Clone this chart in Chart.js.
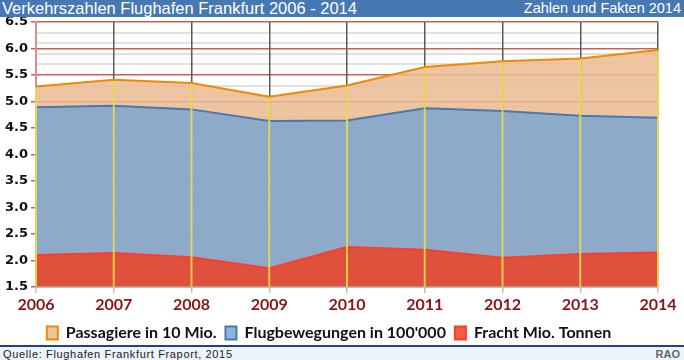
<!DOCTYPE html>
<html>
<head>
<meta charset="utf-8">
<script src="https://cdn.jsdelivr.net/npm/chart.js@4/dist/chart.umd.min.js"></script>
<style>
  body { margin: 0; background: #fff; }
  #wrap { position: relative; width: 684px; height: 360px; overflow: hidden; }
  #graph { position: absolute; left: 0; top: 0; }
  #titre { position: absolute; left: 0; top: 0; width: 684px; height: 17px; background: #4878b2;
           color: #fff; font-family: "Liberation Sans", Arial, sans-serif; }
  #titre .g { position: absolute; left: 2px; top: -1px; font-size: 16.5px; line-height: 18px; }
  #titre .d { position: absolute; right: 3px; top: -1px; font-size: 14.5px; line-height: 18px; }
  #pied { position: absolute; left: 0; top: 345px; width: 684px; height: 15px; background: #edf3fa;
          border-top: 2px solid #24407e; font-family: "Liberation Sans", Arial, sans-serif; }
  #pied .g { position: absolute; left: 3px; top: 1px; font-size: 11px; color: #222; letter-spacing: 0.65px; }
  #pied .d { position: absolute; right: 4px; top: 1px; font-size: 11px; color: #666; font-weight: bold; }
</style>
</head>
<body>
<div id="wrap">
  <canvas id="graph" width="684" height="360"></canvas>
  <div id="titre"><span class="g">Verkehrszahlen Flughafen Frankfurt 2006 - 2014</span><span class="d">Zahlen und Fakten 2014</span></div>
  <div id="pied"><span class="g">Quelle: Flughafen Frankfurt Fraport, 2015</span><span class="d">RAO</span></div>
</div>
<script>
var annees = ['2006', '2007', '2008', '2009', '2010', '2011', '2012', '2013', '2014'];
// passagiere en 10 Mio, flugbewegungen en 100'000, fracht en Mio. Tonnen
var passagiere = [5.28, 5.41, 5.35, 5.09, 5.30, 5.65, 5.76, 5.81, 5.97];
var flugbewegungen = [4.89, 4.92, 4.85, 4.63, 4.64, 4.87, 4.82, 4.73, 4.69];
var fracht = [2.10, 2.14, 2.06, 1.85, 2.25, 2.20, 2.05, 2.12, 2.15];
var libelles = ['Passagiere in 10 Mio.', "Flugbewegungen in 100'000", 'Fracht Mio. Tonnen'];

// lignes jaunes verticales par dessus les surfaces
var lignesJaunes = {
    id: 'lignesJaunes',
    afterDatasetsDraw: function (chart) {
        var ctx = chart.ctx;
        var meta = chart.getDatasetMeta(0);
        var bas = chart.chartArea.bottom;
        ctx.save();
        ctx.lineWidth = 2;
        ctx.strokeStyle = 'rgba(236,222,70,0.85)';
        for (var i = 0; i < meta.data.length; i++) {
            var pt = meta.data[i];
            ctx.beginPath();
            ctx.moveTo(pt.x, bas);
            ctx.lineTo(pt.x, pt.y + 1);
            ctx.stroke();
        }
        ctx.restore();
    }
};

function dixieme(v) {
    return Math.round(v * 10);
}

var ctx = document.getElementById('graph').getContext('2d');
var chart = new Chart(ctx, {
    type: 'line',
    data: {
        labels: annees,
        datasets: [
            {
                label: libelles[0],
                data: passagiere,
                fill: 'start',
                backgroundColor: 'rgba(234,187,146,0.85)',
                borderColor: '#f08800',
                borderWidth: 2,
                pointRadius: 0,
                order: 3
            },
            {
                label: libelles[1],
                data: flugbewegungen,
                fill: 'start',
                backgroundColor: 'rgba(125,166,209,0.85)',
                borderColor: '#4a78ad',
                borderWidth: 2,
                pointRadius: 0,
                order: 2
            },
            {
                label: libelles[2],
                data: fracht,
                fill: 'start',
                backgroundColor: 'rgba(237,66,37,0.85)',
                borderColor: '#ff3b2b',
                borderWidth: 2,
                pointRadius: 0,
                order: 1
            }
        ]
    },
    options: {
        responsive: false,
        animation: false,
        layout: { padding: { top: 22, left: 0, right: 26, bottom: 9 } },
        plugins: {
            tooltip: { enabled: false },
            legend: {
                position: 'bottom',
                labels: {
                    boxWidth: 11,
                    boxHeight: 13,
                    padding: 9,
                    color: '#111',
                    font: { family: 'Lato', size: 16, weight: 'bold' },
                    sort: function (a, b) { return a.datasetIndex - b.datasetIndex; }
                }
            }
        },
        scales: {
            x: {
                offset: false,
                grid: {
                    color: '#5a5a5a',
                    lineWidth: 1.5,
                    tickLength: 6,
                    tickColor: '#bbb'
                },
                border: { color: '#bbb', width: 2 },
                ticks: {
                    color: '#8b1414',
                    padding: 2,
                    maxRotation: 0,
                    font: { family: 'Lato', size: 16, weight: 'bold' }
                }
            },
            y: {
                min: 1.5,
                max: 6.5,
                afterFit: function (scale) { scale.width = 36; },
                grid: {
                    z: -2,
                    color: function (c) {
                        var d = dixieme(c.tick.value);
                        if (d % 5 === 0) return '#c8605a';
                        if ((d - 15) % 2 === 0) return '#e0e0e0';
                        return 'rgba(0,0,0,0)';
                    },
                    lineWidth: function (c) {
                        var d = dixieme(c.tick.value);
                        return d % 5 === 0 ? 1.5 : 2;
                    },
                    tickLength: 5,
                    tickColor: function (c) {
                        return dixieme(c.tick.value) % 5 === 0 ? '#c8605a' : 'rgba(0,0,0,0)';
                    }
                },
                border: { color: '#d79090', width: 2 },
                ticks: {
                    stepSize: 0.1,
                    autoSkip: false,
                    padding: 3,
                    color: '#111',
                    font: { family: 'DejaVu Sans', size: 13, weight: 'bold' },
                    callback: function (v) {
                        return dixieme(v) % 5 === 0 ? v.toFixed(1) : '';
                    }
                }
            }
        }
    },
    plugins: [lignesJaunes]
});
</script>
</body>
</html>
